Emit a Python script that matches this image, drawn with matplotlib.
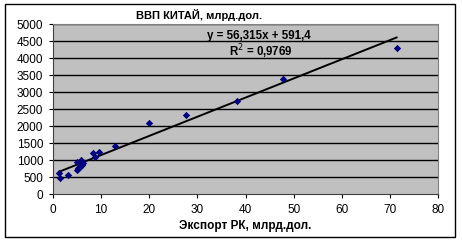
import matplotlib.pyplot as plt
import matplotlib.patches as patches
import numpy as np

# Export of RK (bn USD) vs GDP of China (bn USD)
export_rk = [1.3, 1.45, 3.2, 4.9, 5.05, 5.27, 5.6, 5.75, 5.96, 6.3,
             8.4, 8.73, 9.56, 12.9, 20.0, 27.65, 38.2, 47.75, 71.4]
gdp_china = [618, 470, 568, 715, 959, 764, 812, 1009, 862, 911,
             1205, 1088, 1254, 1430, 2107, 2323, 2754, 3391, 4312]

slope = 56.315
intercept = 591.4

plt.rcParams['font.family'] = ['Liberation Sans', 'DejaVu Sans']

fig = plt.figure(figsize=(4.62, 2.42), dpi=100)
ax = fig.add_axes([53 / 462, 1 - 194.3 / 242, 385 / 462, 170 / 242])
ax.set_facecolor('#C0C0C0')

# horizontal gridlines
for yv in np.arange(500, 5001, 500):
    ax.axhline(yv, color='black', lw=1, zorder=1)

# trend line
xs = np.array([min(export_rk), max(export_rk)])
ax.plot(xs, slope * xs + intercept, color='black', lw=1.4, zorder=2)

ax.scatter(export_rk, gdp_china, marker='D', s=14, color='#000080', zorder=3, linewidths=0)

ax.set_xlim(0, 80)
ax.set_ylim(0, 5000)
ax.set_xticks(range(0, 81, 10))
ax.set_yticks(range(0, 5001, 500))
ax.tick_params(labelsize=8.5, length=3, direction='out', pad=4)
for side in ['top', 'right']:
    ax.spines[side].set_color('#808080')
for side in ['left', 'bottom']:
    ax.spines[side].set_color('#404040')

ax.set_xlabel('Экспорт РК, млрд.дол.', fontsize=8.5, fontweight='bold', labelpad=3)

fig.text(199 / 462, 1 - 15 / 242, 'ВВП КИТАЙ, млрд.дол.', fontsize=8, fontweight='bold',
         ha='center', va='center')
fig.text(259 / 462, 1 - 36 / 242, 'y = 56,315x + 591,4', fontsize=8.3, fontweight='bold',
         ha='center', va='center')
fig.text(261 / 462, 1 - 51.5 / 242, 'R$^2$ = 0,9769', fontsize=8.3, fontweight='bold',
         ha='center', va='center')

# outer chart border
fig.patches.append(patches.Rectangle((5 / 462, 1 - 237 / 242), 450 / 462, 233 / 242,
                                     transform=fig.transFigure, fill=False,
                                     edgecolor='black', lw=1))

fig.savefig('out.png', dpi=100)
